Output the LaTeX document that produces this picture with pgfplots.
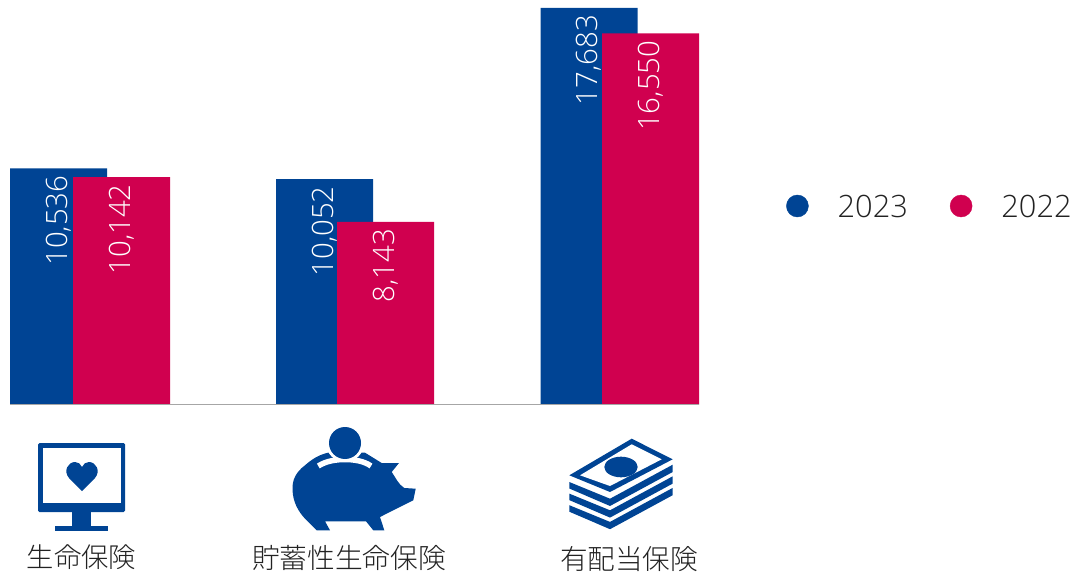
\documentclass[border=0pt]{standalone}
\usepackage{pgfplots}
\usepackage{fontspec}
\pgfplotsset{compat=1.18}
\setmainfont{Open Sans Light}
\newfontfamily\cjk{Noto Sans CJK JP Light}
\definecolor{navy}{RGB}{0,68,148}
\definecolor{crimson}{RGB}{208,0,79}
\definecolor{ink}{RGB}{34,34,34}
\begin{document}
\begin{tikzpicture}[x=1pt,y=1pt]
\path[use as bounding box] (0,0) rectangle (1081,576);
\begin{axis}[
  at={(0,0)}, anchor=south west,
  scale only axis, width=1081pt, height=576pt,
  xmin=0, xmax=1081, ymin=-7642, ymax=18038,
  axis lines=none, clip=false,
  ybar, bar shift=0pt, bar width=97pt,
  /pgf/number format/assume math mode=true,
  /pgf/number format/1000 sep={,},
  nodes near coords,
  nodes near coords style={yshift=-7pt, rotate=90, anchor=east, inner sep=0pt,
    text=white, font=\fontsize{29.4}{29.4}\selectfont},
  legend style={at={(783pt,369pt)}, anchor=west, draw=none, fill=none,
    font=\fontsize{30.8}{30.8}\selectfont, text=ink, legend columns=2,
    /tikz/every even column/.append style={column sep=40pt},
    legend cell align=left},
  legend image code/.code={\fill[#1] (0.5*22pt,1pt) circle[radius=11pt];},
]
% Overlapping bars, 2022 in front of 2023
\addplot[fill=navy, draw=none, forget plot] coordinates {(58.5,10536) (324.5,10052) (589,17683)};
\addplot[fill=crimson, draw=none, forget plot] coordinates {(121.5,10142) (385.5,8143) (650.5,16550)};
% Baseline
\addplot[sharp plot, draw=black!35, line width=1pt, forget plot, nodes near coords=] coordinates {(10,0) (699,0)};
\addlegendimage{navy}
\addlegendentry{\hspace*{27pt}2023}
\addlegendimage{crimson}
\addlegendentry{\hspace*{27pt}2022}
\end{axis}
\begin{scope}[shift={(0,576)}, y=-1pt, x=1pt]
  % Category names
  \node[text=ink, font=\cjk\fontsize{27.3}{27.3}\selectfont] at (81.5,557) {生命保険};
  \node[text=ink, font=\cjk\fontsize{27.7}{27.7}\selectfont] at (349,558) {貯蓄性生命保険};
  \node[text=ink, font=\cjk\fontsize{27.6}{27.6}\selectfont] at (629,559) {有配当保険};
  % Monitor icon
  \fill[navy, rounded corners=1.5pt] (38,443) rectangle (125,512);
  \fill[white] (43,448) rectangle (121,503);
  \fill[navy] (72,511) rectangle (91,527);
  \fill[navy] (55,526) rectangle (108,531);
  \fill[navy] (82,491) -- (69,478) .. controls (63,471) and (68,462) .. (75,462)
     .. controls (78,462) and (81,464) .. (82,467)
     .. controls (83,464) and (86,462) .. (89,462)
     .. controls (96,462) and (101,471) .. (95,478) -- cycle;
  % Piggy bank icon
  \fill[navy] (316.7,530.3) -- (330,530.3) -- (325,521.3) -- (366,521.3) -- (373.3,530.3)
     -- (384.3,530.3) -- (380,517) -- (413.3,500.3) -- (415.7,488.7) -- (404.3,488)
     .. controls (398,484) and (396,478) .. (391.7,472) -- (399,463) -- (381.7,463) -- (365,452.7)
     -- (328,452.7) .. controls (318,455) and (311,460) .. (305,465.3)
     .. controls (296,472) and (292,480) .. (292.5,490)
     .. controls (293,502) and (298,511) .. (305,518.7) -- cycle;
  \draw[white, line width=5.5pt] (318.3,466) .. controls (326,461) and (336,459.5) .. (345,459.5)
     .. controls (354,459.5) and (364,461) .. (371,466);
  \fill[white] (345,443) circle[radius=19];
  \fill[navy] (345,443) circle[radius=16];
  % Banknote stack icon
  \fill[navy] (631.7,438.7) -- (672.7,459.3) -- (610,492) -- (569.3,475.3) -- cycle;
  \fill[white] (631.7,444.3) -- (661.7,459.3) -- (610,486) -- (580,475.3) -- cycle;
  \fill[navy] (621,467) ellipse[x radius=16.7, y radius=10.3];
  \foreach \d in {0,11.6,23.2}
    \fill[navy] (569.3,482+\d) -- (610,498.7+\d) -- (672.7,464.7+\d) -- (672.7,472+\d)
       -- (610,506+\d) -- (569.3,488.5+\d) -- cycle;
\end{scope}
\end{tikzpicture}
\end{document}
